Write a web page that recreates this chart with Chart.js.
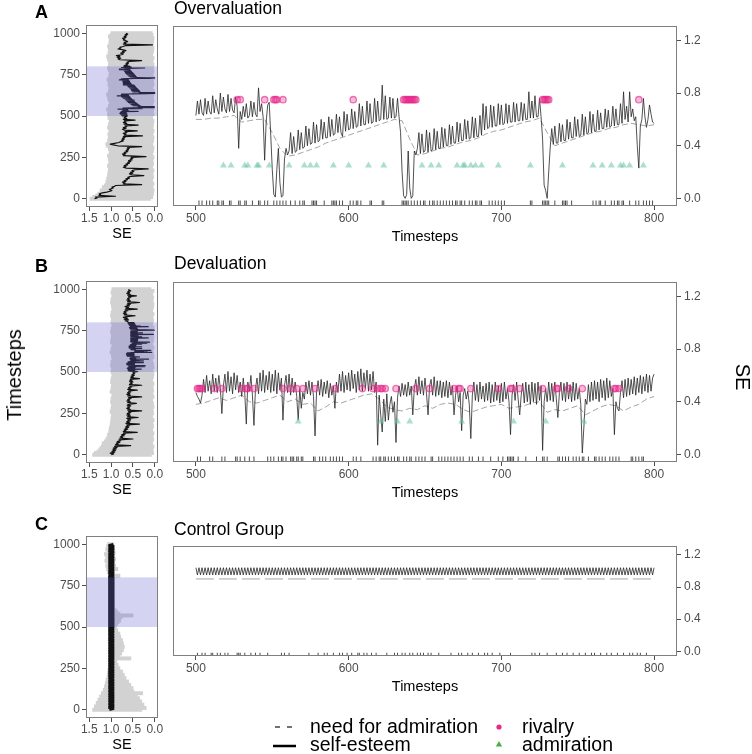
<!DOCTYPE html>
<html lang="en">
<head>
  <meta charset="UTF-8" />
  <title>Self-esteem simulation panels</title>
  <script src="https://cdn.jsdelivr.net/npm/chart.js"></script>
  <style>
    body { margin: 0; background: #fff; font-family: 'Liberation Sans', Arial, sans-serif; }
    #page { position: relative; width: 752px; height: 754px; overflow: hidden; background: #fff; }
    #page canvas { position: absolute; }
    .t { position: absolute; white-space: nowrap; line-height: 1; color: #000; }
    .tag { font-size: 18px; font-weight: bold; left: 35px; }
    .title { font-size: 17.5px; left: 174px; }
    .xlab { font-size: 14.5px; width: 200px; text-align: center; }
    .leg { font-size: 19.5px; }
  </style>
</head>
<body>
<div id="page">
  <canvas id="leftA"></canvas>
  <canvas id="rightA"></canvas>
  <canvas id="leftB"></canvas>
  <canvas id="rightB"></canvas>
  <canvas id="leftC"></canvas>
  <canvas id="rightC"></canvas>

  <div class="t tag" style="top:3px">A</div>
  <div class="t tag" style="top:257px">B</div>
  <div class="t tag" style="top:515px">C</div>

  <div class="t title" style="top:0px">Overvaluation</div>
  <div class="t title" style="top:255px">Devaluation</div>
  <div class="t title" style="top:521px">Control Group</div>

  <div class="t xlab" style="left:325px; top:229px">Timesteps</div>
  <div class="t xlab" style="left:325px; top:485px">Timesteps</div>
  <div class="t xlab" style="left:325px; top:679px">Timesteps</div>

  <div class="t xlab" style="left:22px; top:226px">SE</div>
  <div class="t xlab" style="left:22px; top:482px">SE</div>
  <div class="t xlab" style="left:22px; top:737px">SE</div>

  <div class="t" style="left:14px; top:375px; font-size:20px; transform:translate(-50%,-50%) rotate(-90deg)">Timesteps</div>
  <div class="t" style="left:743px; top:377px; font-size:20px; transform:translate(-50%,-50%) rotate(90deg)">SE</div>

  <svg width="752" height="754" style="position:absolute; left:0; top:0">
    <line x1="275" y1="727" x2="292" y2="727" stroke="#444" stroke-width="1.4" stroke-dasharray="5,7" />
    <line x1="273" y1="746" x2="296" y2="746" stroke="#000" stroke-width="2.5" />
    <circle cx="499" cy="727" r="2.6" fill="#e7298a" />
    <polygon points="499,741 502.2,746.5 495.8,746.5" fill="#4daf4a" />
  </svg>
  <div class="t leg" style="left:310px; top:717px">need for admiration</div>
  <div class="t leg" style="left:310px; top:735px">self-esteem</div>
  <div class="t leg" style="left:522px; top:717px">rivalry</div>
  <div class="t leg" style="left:522px; top:735px">admiration</div>
</div>

<script>
  // ---------------- data ----------------
  const windowTicks = [500, 600, 700, 800];
  const seTicks = [0, 0.4, 0.8, 1.2];
  const fullTicks = [0, 250, 500, 750, 1000];
  const seTicksRev = [1.5, 1.0, 0.5, 0.0];

  // self-esteem of the focal run, one value per timestep 500..800
  const seOver = [
    0.63,0.74,0.64,0.75,0.65,0.63,0.76,0.64,0.74,0.66,
    0.64,0.78,0.65,0.75,0.68,0.64,0.80,0.66,0.77,0.68,
    0.65,0.79,0.66,0.76,0.67,0.65,0.77,0.70,0.38,0.66,
    0.60,0.70,0.62,0.72,0.61,0.63,0.74,0.62,0.73,0.64,
    0.62,0.84,0.66,0.72,0.62,0.29,0.58,0.71,0.73,0.48,
    0.22,0.03,0.01,0.22,0.38,0.12,0.01,0.02,0.30,0.38,
    0.33,0.36,0.50,0.34,0.47,0.35,0.36,0.52,0.37,0.50,
    0.38,0.39,0.55,0.40,0.53,0.41,0.42,0.58,0.42,0.56,
    0.43,0.44,0.60,0.45,0.58,0.46,0.46,0.62,0.47,0.60,
    0.48,0.49,0.64,0.50,0.62,0.50,0.47,0.66,0.51,0.64,
    0.52,0.53,0.68,0.53,0.66,0.54,0.55,0.72,0.55,0.70,
    0.56,0.56,0.74,0.57,0.72,0.57,0.58,0.76,0.58,0.74,
    0.59,0.60,0.86,0.60,0.78,0.60,0.61,0.77,0.61,0.76,
    0.61,0.62,0.76,0.62,0.50,0.20,0.02,0.00,0.03,0.36,
    0.08,0.00,0.02,0.36,0.33,0.38,0.50,0.34,0.49,0.35,
    0.36,0.52,0.35,0.50,0.36,0.37,0.53,0.37,0.51,0.38,
    0.38,0.54,0.39,0.53,0.40,0.40,0.56,0.41,0.55,0.42,
    0.42,0.58,0.43,0.57,0.44,0.44,0.60,0.45,0.59,0.45,
    0.46,0.62,0.46,0.61,0.47,0.47,0.63,0.48,0.72,0.52,
    0.70,0.53,0.54,0.71,0.54,0.70,0.55,0.55,0.72,0.56,
    0.71,0.56,0.57,0.72,0.57,0.71,0.58,0.58,0.73,0.58,
    0.72,0.59,0.59,0.73,0.59,0.72,0.60,0.60,0.81,0.61,
    0.74,0.61,0.78,0.62,0.62,0.76,0.62,0.45,0.10,0.06,
    0.00,0.20,0.39,0.53,0.41,0.55,0.42,0.42,0.57,0.43,
    0.56,0.44,0.44,0.60,0.45,0.58,0.46,0.46,0.62,0.47,
    0.60,0.47,0.48,0.64,0.48,0.62,0.49,0.50,0.66,0.50,
    0.64,0.51,0.51,0.67,0.52,0.65,0.53,0.53,0.68,0.54,
    0.67,0.54,0.55,0.70,0.55,0.68,0.56,0.56,0.72,0.57,
    0.81,0.60,0.70,0.58,0.81,0.62,0.68,0.59,0.62,0.40,
    0.23,0.55,0.60,0.76,0.62,0.54,0.60,0.71,0.64,0.58,
    0.57
  ];
  const seDev = [
    0.47,0.44,0.42,0.39,0.45,0.57,0.47,0.60,0.48,0.56,
    0.46,0.61,0.48,0.58,0.47,0.60,0.50,0.31,0.52,0.61,
    0.47,0.63,0.48,0.59,0.46,0.62,0.49,0.60,0.47,0.55,
    0.44,0.58,0.46,0.23,0.55,0.48,0.60,0.45,0.22,0.50,
    0.58,0.46,0.62,0.48,0.64,0.47,0.60,0.49,0.63,0.47,
    0.61,0.48,0.64,0.46,0.62,0.49,0.58,0.26,0.52,0.60,
    0.47,0.61,0.45,0.58,0.47,0.55,0.44,0.26,0.50,0.35,
    0.47,0.42,0.55,0.46,0.56,0.45,0.55,0.44,0.14,0.48,
    0.56,0.45,0.57,0.44,0.55,0.46,0.56,0.43,0.54,0.45,
    0.52,0.35,0.55,0.47,0.61,0.48,0.63,0.47,0.60,0.49,
    0.62,0.48,0.64,0.50,0.61,0.47,0.63,0.49,0.65,0.48,
    0.62,0.50,0.64,0.48,0.61,0.49,0.63,0.47,0.55,0.07,
    0.45,0.30,0.17,0.42,0.25,0.46,0.26,0.38,0.44,0.32,
    0.40,0.09,0.43,0.52,0.44,0.54,0.45,0.53,0.44,0.55,
    0.45,0.52,0.30,0.50,0.57,0.45,0.59,0.46,0.56,0.45,
    0.58,0.46,0.30,0.52,0.57,0.45,0.59,0.44,0.56,0.45,
    0.56,0.43,0.55,0.44,0.56,0.43,0.55,0.45,0.52,0.30,
    0.45,0.52,0.40,0.47,0.18,0.45,0.50,0.42,0.48,0.38,
    0.12,0.45,0.55,0.41,0.53,0.40,0.55,0.42,0.52,0.40,
    0.54,0.41,0.55,0.39,0.53,0.40,0.55,0.41,0.52,0.39,
    0.54,0.40,0.55,0.42,0.50,0.40,0.15,0.45,0.53,0.41,
    0.55,0.42,0.30,0.45,0.54,0.39,0.55,0.40,0.53,0.38,
    0.55,0.40,0.54,0.38,0.55,0.41,0.52,0.03,0.40,0.50,
    0.40,0.55,0.41,0.54,0.40,0.55,0.42,0.28,0.47,0.55,
    0.41,0.54,0.40,0.55,0.42,0.53,0.40,0.55,0.41,0.54,
    0.42,0.50,0.38,0.01,0.20,0.42,0.38,0.53,0.40,0.55,
    0.41,0.56,0.42,0.55,0.40,0.57,0.43,0.56,0.41,0.58,
    0.43,0.56,0.44,0.50,0.15,0.40,0.35,0.33,0.47,0.56,
    0.43,0.57,0.44,0.58,0.45,0.57,0.46,0.59,0.45,0.58,
    0.47,0.60,0.46,0.59,0.48,0.61,0.47,0.60,0.48,0.58,
    0.61
  ];
  const seCtrl = [
    1.04,0.95,1.04,0.95,1.04,0.95,1.04,0.95,1.04,0.95,
    1.04,0.95,1.04,0.95,1.04,0.95,1.04,0.95,1.04,0.95,
    1.04,0.95,1.04,0.95,1.04,0.95,1.04,0.95,1.04,0.95,
    1.04,0.95,1.04,0.95,1.04,0.95,1.04,0.95,1.04,0.95,
    1.04,0.95,1.04,0.95,1.04,0.95,1.04,0.95,1.04,0.95,
    1.04,0.95,1.04,0.95,1.04,0.95,1.04,0.95,1.04,0.95,
    1.04,0.95,1.04,0.95,1.04,0.95,1.04,0.95,1.04,0.95,
    1.04,0.95,1.04,0.95,1.04,0.95,1.04,0.95,1.04,0.95,
    1.04,0.95,1.04,0.95,1.04,0.95,1.04,0.95,1.04,0.95,
    1.04,0.95,1.04,0.95,1.04,0.95,1.04,0.95,1.04,0.95,
    1.04,0.95,1.04,0.95,1.04,0.95,1.04,0.95,1.04,0.95,
    1.04,0.95,1.04,0.95,1.04,0.95,1.04,0.95,1.04,0.95,
    1.04,0.95,1.04,0.95,1.04,0.95,1.04,0.95,1.04,0.95,
    1.04,0.95,1.04,0.95,1.04,0.95,1.04,0.95,1.04,0.95,
    1.04,0.95,1.04,0.95,1.04,0.95,1.04,0.95,1.04,0.95,
    1.04,0.95,1.04,0.95,1.04,0.95,1.04,0.95,1.04,0.95,
    1.04,0.95,1.04,0.95,1.04,0.95,1.04,0.95,1.04,0.95,
    1.04,0.95,1.04,0.95,1.04,0.95,1.04,0.95,1.04,0.95,
    1.04,0.95,1.04,0.95,1.04,0.95,1.04,0.95,1.04,0.95,
    1.04,0.95,1.04,0.95,1.04,0.95,1.04,0.95,1.04,0.95,
    1.04,0.95,1.04,0.95,1.04,0.95,1.04,0.95,1.04,0.95,
    1.04,0.95,1.04,0.95,1.04,0.95,1.04,0.95,1.04,0.95,
    1.04,0.95,1.04,0.95,1.04,0.95,1.04,0.95,1.04,0.95,
    1.04,0.95,1.04,0.95,1.04,0.95,1.04,0.95,1.04,0.95,
    1.04,0.95,1.04,0.95,1.04,0.95,1.04,0.95,1.04,0.95,
    1.04,0.95,1.04,0.95,1.04,0.95,1.04,0.95,1.04,0.95,
    1.04,0.95,1.04,0.95,1.04,0.95,1.04,0.95,1.04,0.95,
    1.04,0.95,1.04,0.95,1.04,0.95,1.04,0.95,1.04,0.95,
    1.04,0.95,1.04,0.95,1.04,0.95,1.04,0.95,1.04,0.95,
    1.04,0.95,1.04,0.95,1.04,0.95,1.04,0.95,1.04,0.95,
    1.04
  ];

  // need for admiration, every 5th timestep 500..800 (control: endpoints only)
  const nfaOver = [
    0.60,0.60,0.61,0.61,0.62,0.63,0.58,0.59,0.60,0.60,
    0.50,0.38,0.32,0.33,0.35,0.37,0.39,0.42,0.44,0.46,
    0.48,0.50,0.52,0.54,0.56,0.58,0.60,0.59,0.45,0.33,
    0.34,0.36,0.38,0.39,0.41,0.43,0.44,0.46,0.49,0.51,
    0.52,0.54,0.56,0.58,0.59,0.61,0.50,0.40,0.42,0.44,
    0.46,0.48,0.50,0.51,0.53,0.54,0.56,0.57,0.56,0.55,
    0.56
  ];
  const nfaDev = [
    0.38,0.39,0.41,0.43,0.41,0.43,0.45,0.40,0.39,0.41,
    0.43,0.45,0.40,0.42,0.38,0.39,0.33,0.36,0.40,0.39,
    0.41,0.43,0.45,0.46,0.42,0.36,0.34,0.33,0.35,0.34,
    0.37,0.35,0.38,0.39,0.38,0.34,0.32,0.34,0.36,0.37,
    0.38,0.35,0.36,0.37,0.39,0.40,0.32,0.34,0.33,0.35,
    0.37,0.30,0.33,0.36,0.38,0.37,0.33,0.36,0.38,0.42,
    0.44
  ];
  const nfaCtrl = [0.90, 0.90];

  // events
  const rivalryOver = [527,529,545,551,552,553,557,603,636,637,638,639,640,641,642,643,644,727,728,729,730,731,790];
  const admirationOver = [518,523,532,534,540,541,548,561,571,575,579,590,600,613,623,648,654,659,671,675,676,680,683,687,698,719,740,760,766,772,778,780,784,793];
  const rivalryDev = [501,502,503,504,512,517,530,533,534,538,557,562,566,570,578,591,609,616,619,621,622,624,631,644,653,669,672,673,680,698,706,707,712,727,736,737,744,753,774,775,777];
  const admirationDev = [567,621,632,640,674,708,729,754];
  const rivalryLevel = { over: 0.75, dev: 0.50 };
  const admirationLevel = 0.25;

  // interaction timesteps (rug)
  const rugOver = [502,504,507,509,511,514,515,517,518,522,523,528,529,532,533,537,541,542,545,547,551,553,555,557,559,562,565,568,570,571,576,577,578,579,584,589,590,591,592,594,596,601,603,605,606,608,614,615,622,623,635,636,637,638,639,641,643,645,647,649,650,653,655,656,658,660,662,664,666,668,670,671,673,674,676,679,681,683,684,686,687,692,694,696,698,700,702,719,720,727,728,729,730,731,735,740,741,742,743,746,760,762,764,765,768,772,774,776,777,779,780,784,788,790,793,795,797,799];
  const rugDev = [501,503,509,511,517,519,526,527,529,532,535,538,547,549,551,554,556,557,559,562,563,564,566,567,569,570,577,578,581,583,585,588,590,592,594,596,603,605,608,616,618,620,621,623,624,626,628,630,632,633,636,638,640,641,644,646,648,650,654,655,659,661,663,665,667,669,671,673,675,679,681,685,688,693,698,701,704,705,706,707,708,711,716,723,727,728,730,737,738,740,742,744,747,749,751,753,754,757,761,762,764,766,768,771,773,775,777,785,786,788,790,792,793];
  const rugCtrl = [501,504,506,510,511,514,516,519,521,527,528,529,532,536,539,542,547,556,558,561,574,580,584,586,590,594,596,599,602,606,607,610,612,615,618,625,630,632,635,637,640,642,645,647,649,652,654,659,667,672,674,678,681,685,689,691,694,699,706,720,722,725,730,736,740,743,747,751,755,759,761,765,769,772,776,780,784,786,789,791,795];

  // whole run (0..1000): self-esteem every 5th step outside the window
  const trackOverPre = [
    1.38,1.32,1.36,0.90,1.28,1.24,1.27,1.20,1.10,1.02,
    0.98,1.04,1.00,0.95,0.98,0.92,0.90,0.30,0.72,0.68,
    0.74,0.66,0.70,0.62,0.66,0.58,0.62,0.55,0.25,0.52,
    0.58,0.50,0.56,0.48,0.52,0.45,0.15,0.65,0.72,0.66,
    0.70,0.62,0.66,0.58,0.62,0.55,0.60,0.52,0.56,0.50,
    0.54,0.20,0.72,0.68,0.74,0.66,0.70,0.62,0.66,0.60,
    0.64,0.58,0.62,0.30,0.85,0.95,1.02,0.92,0.82,0.78,
    0.72,0.76,0.70,0.74,0.68,0.72,0.28,0.70,0.66,0.72,
    0.64,0.68,0.40,0.70,0.74,0.66,0.72,0.64,0.68,0.38,
    0.70,0.64,0.72,0.66,0.70,0.45,0.72,0.64,0.70,0.66
  ];
  const trackOverPost = [
    0.70,0.62,0.66,0.60,0.64,0.58,0.30,0.80,0.84,0.78,
    0.86,0.80,0.88,0.76,0.72,0.78,0.70,0.74,0.66,0.72,
    0.84,0.78,0.80,0.72,0.68,0.05,0.72,0.66,0.70,0.62,
    0.66,0.72,0.68,0.74,0.66,0.70,0.64,0.68,0.62,0.66
  ];
  const trackDevPre = [
    1.00,0.94,1.02,0.92,0.98,0.90,0.96,0.88,0.95,0.86,
    0.92,0.55,0.90,0.84,0.88,0.80,0.86,0.78,0.82,0.50,
    0.80,0.74,0.78,0.70,0.76,0.68,0.72,0.40,0.72,0.66,
    0.70,0.62,0.68,0.60,0.66,0.58,0.64,0.35,0.66,0.58,
    0.64,0.56,0.62,0.55,0.64,0.38,0.62,0.56,0.64,0.57,
    0.63,0.55,0.60,0.30,0.62,0.56,0.64,0.58,0.62,0.55,
    0.63,0.57,0.42,0.62,0.56,0.64,0.58,0.62,0.54,0.60,
    0.30,0.62,0.56,0.64,0.57,0.62,0.55,0.60,0.40,0.62,
    0.56,0.60,0.53,0.58,0.30,0.58,0.52,0.56,0.50,0.58,
    0.52,0.56,0.35,0.55,0.49,0.54,0.47,0.52,0.46,0.50
  ];
  const trackDevPost = [
    0.62,0.68,0.60,0.70,0.62,0.72,0.64,0.45,0.70,0.64,
    0.72,0.66,0.70,0.62,0.68,0.40,0.66,0.60,0.68,0.58,
    0.64,0.56,0.62,0.35,0.62,0.56,0.64,0.58,0.62,0.55,
    0.60,0.42,0.62,0.56,0.64,0.58,0.62,0.55,0.60,0.58
  ];
  const trackCtrlPre = [
    1.04,0.95,1.04,0.95,1.04,0.95,1.04,0.95,1.04,0.95,
    1.04,0.95,1.04,0.95,1.04,0.95,1.04,0.95,1.04,0.95,
    1.04,0.95,1.04,0.95,1.04,0.95,1.04,0.95,1.04,0.95,
    1.04,0.95,1.04,0.95,1.04,0.95,1.04,0.95,1.04,0.95,
    1.04,0.95,1.04,0.95,1.04,0.95,1.04,0.95,1.04,0.95,
    1.04,0.95,1.04,0.95,1.04,0.95,1.04,0.95,1.04,0.95,
    1.04,0.95,1.04,0.95,1.04,0.95,1.04,0.95,1.04,0.95,
    1.04,0.95,1.04,0.95,1.04,0.95,1.04,0.95,1.04,0.95,
    1.04,0.95,1.04,0.95,1.04,0.95,1.04,0.95,1.04,0.95,
    1.04,0.95,1.04,0.95,1.04,0.95,1.04,0.95,1.04,0.95
  ];
  const trackCtrlPost = [
    1.04,0.95,1.04,0.95,1.04,0.95,1.04,0.95,1.04,0.95,
    1.04,0.95,1.04,0.95,1.04,0.95,1.04,0.95,1.04,0.95,
    1.04,0.95,1.04,0.95,1.04,0.95,1.04,0.95,1.04,0.95,
    1.04,0.95,1.04,0.95,1.04,0.95,1.04,0.95,1.04,0.95
  ];

  // spread across runs, every 10th step 0..1000 (upper / lower SE)
  const spreadOverHi = [
    1.48,1.42,1.35,1.30,1.22,1.25,1.18,1.20,1.15,1.10,
    1.12,1.05,1.10,1.04,1.08,1.02,1.07,1.00,1.06,1.02,
    1.08,1.00,1.05,0.98,1.06,1.02,1.08,1.00,1.04,0.98,
    1.06,1.02,1.10,1.12,1.05,1.08,1.00,1.06,1.02,1.07,
    0.99,1.05,1.00,1.08,1.02,1.06,0.98,1.04,1.00,1.07,
    1.02,1.08,1.00,1.05,1.10,1.02,1.06,0.98,1.04,1.00,
    1.07,1.02,1.08,1.10,1.03,1.06,0.99,1.05,1.01,1.07,
    1.00,1.06,1.09,1.02,1.05,0.98,1.04,1.00,1.06,1.08,
    1.02,1.06,1.00,1.05,1.08,1.02,1.10,1.04,1.07,1.00,
    1.06,1.02,1.08,1.00,1.05,0.98,1.04,1.00,1.06,1.02,
    1.00
  ];
  const spreadOverLo = [
    0.10,0.05,0.12,0.03,0.08,0.02,0.10,0.04,0.07,0.02,
    0.12,0.05,0.09,0.03,0.15,0.04,0.08,0.02,0.11,0.05,
    0.07,0.03,0.13,0.04,0.09,0.02,0.10,0.05,0.06,0.03,
    0.11,0.02,0.08,0.05,0.14,0.03,0.07,0.02,0.10,0.04,
    0.06,0.02,0.12,0.04,0.08,0.03,0.11,0.02,0.07,0.05,
    0.09,0.02,0.06,0.03,0.10,0.01,0.08,0.04,0.12,0.02,
    0.07,0.03,0.09,0.02,0.06,0.01,0.11,0.04,0.08,0.02,
    0.10,0.03,0.07,0.01,0.09,0.04,0.12,0.02,0.06,0.03,
    0.08,0.02,0.11,0.04,0.07,0.02,0.10,0.05,0.13,0.03,
    0.09,0.02,0.07,0.04,0.12,0.03,0.08,0.02,0.10,0.04,
    0.06
  ];
  const spreadDevHi = [
    1.42,1.38,1.32,1.28,1.25,1.22,1.18,1.20,1.15,1.12,
    1.10,1.06,1.08,1.03,1.05,1.00,1.04,0.98,1.02,0.97,
    1.01,0.96,1.00,0.95,0.99,0.96,1.02,0.97,1.00,0.95,
    0.99,0.96,1.01,0.97,1.00,0.95,0.98,0.96,1.02,0.97,
    1.00,0.95,0.99,0.96,1.01,0.97,1.00,0.95,0.98,0.96,
    1.00,0.96,0.99,0.95,1.01,0.97,1.00,0.96,0.98,0.95,
    0.99,0.96,1.02,0.97,1.00,0.95,0.98,0.96,1.01,0.97,
    1.00,0.95,0.99,0.96,1.01,0.97,1.00,0.95,0.98,0.96,
    1.00,0.96,0.99,0.95,1.01,0.97,1.00,0.96,0.98,0.95,
    0.99,0.96,1.01,0.97,1.00,0.95,0.98,0.96,1.00,0.97,
    0.98
  ];
  const spreadDevLo = [
    0.08,0.03,0.11,0.04,0.07,0.02,0.12,0.05,0.09,0.03,
    0.10,0.04,0.07,0.02,0.13,0.05,0.08,0.03,0.11,0.04,
    0.06,0.02,0.10,0.05,0.08,0.03,0.12,0.04,0.07,0.02,
    0.09,0.03,0.11,0.05,0.06,0.02,0.10,0.04,0.08,0.03,
    0.12,0.04,0.07,0.02,0.09,0.05,0.11,0.03,0.06,0.02,
    0.10,0.04,0.08,0.02,0.12,0.03,0.07,0.05,0.09,0.02,
    0.11,0.03,0.06,0.04,0.10,0.02,0.08,0.05,0.12,0.03,
    0.07,0.02,0.09,0.04,0.11,0.03,0.06,0.02,0.10,0.05,
    0.08,0.03,0.12,0.04,0.07,0.02,0.09,0.05,0.11,0.03,
    0.06,0.02,0.10,0.04,0.08,0.03,0.12,0.05,0.07,0.02,
    0.09
  ];
  const spreadCtrlHi = [
    1.42,1.36,1.38,1.30,1.34,1.26,1.30,1.22,1.26,1.18,
    1.22,1.15,1.18,1.12,1.15,1.10,1.13,1.08,1.11,1.07,
    1.09,1.06,1.08,1.05,1.07,1.05,1.06,1.05,1.06,1.05,
    1.05,1.06,1.05,1.06,1.05,1.05,1.06,1.05,1.05,1.06,
    1.05,1.05,1.06,1.05,1.05,1.06,1.05,1.05,1.05,1.06,
    1.05,1.05,1.06,1.05,1.05,1.05,1.06,1.05,1.05,1.05,
    1.05,1.06,1.05,1.05,1.05,1.06,1.05,1.05,1.05,1.05,
    1.06,1.05,1.05,1.05,1.06,1.05,1.05,1.05,1.06,1.05,
    1.05,1.05,1.06,1.08,1.05,1.10,1.06,1.12,1.08,1.10,
    1.14,1.08,1.12,1.06,1.15,1.10,1.08,1.12,1.06,1.10,
    1.08
  ];
  const spreadCtrlLo = [
    0.30,0.20,0.35,0.25,0.40,0.30,0.45,0.35,0.50,0.40,
    0.28,0.48,0.55,0.50,0.60,0.55,0.65,0.60,0.70,0.66,
    0.74,0.70,0.78,0.74,0.82,0.80,0.88,0.84,0.90,0.87,
    0.92,0.55,0.85,0.80,0.76,0.80,0.72,0.78,0.70,0.76,
    0.72,0.80,0.74,0.82,0.78,0.85,0.80,0.88,0.85,0.90,
    0.88,0.90,0.85,0.82,0.78,0.80,0.75,0.50,0.80,0.85,
    0.88,0.92,0.93,0.94,0.93,0.94,0.93,0.94,0.95,0.93,
    0.94,0.93,0.94,0.95,0.93,0.94,0.93,0.95,0.94,0.93,
    0.92,0.80,0.93,0.94,0.92,0.85,0.93,0.90,0.94,0.92,
    0.93,0.90,0.94,0.92,0.93,0.91,0.94,0.92,0.93,0.94,
    0.94
  ];

  // ---------------- layout / styling ----------------
  const windowStart = 500, windowEnd = 800;
  const coarseStep = 5, spreadStep = 10, nfaStep = 5;
  const Y_MIN = -0.058, Y_MAX = 1.31, RUG = 0.041;
  const PAD = 16;

  Chart.defaults.font.family = "'Liberation Sans', Arial, sans-serif";
  Chart.defaults.font.size = 12;
  Chart.defaults.color = '#4d4d4d';
  Chart.defaults.animation = false;
  Chart.defaults.plugins.legend.display = false;
  Chart.defaults.plugins.tooltip.enabled = false;

  const tickGrid = { drawOnChartArea: false, drawTicks: true, tickLength: 4, color: '#4d4d4d', offset: false };

  // panel border, plus the shaded 500-800 window on the overview panels
  const frame = {
    id: 'frame',
    afterDatasetsDraw(chart, args, opts) {
      const { ctx, chartArea: a } = chart;
      ctx.save();
      if (opts.band) {
        const y = chart.scales.y;
        const top = y.getPixelForValue(opts.band[1]);
        const bot = y.getPixelForValue(opts.band[0]);
        ctx.fillStyle = 'rgba(100,100,210,0.28)';
        ctx.fillRect(a.left, top, a.right - a.left, bot - top);
      }
      ctx.strokeStyle = '#7f7f7f';
      ctx.lineWidth = 1;
      ctx.strokeRect(Math.round(a.left) + 0.5, Math.round(a.top) + 0.5,
        Math.round(a.right - a.left) - 1, Math.round(a.bottom - a.top) - 1);
      ctx.restore();
    }
  };

  function place(id, area, axisLeft, axisRight, axisBottom) {
    const c = document.getElementById(id);
    const w = PAD + axisLeft + (area.r - area.l) + axisRight + PAD;
    const h = PAD + (area.b - area.t) + axisBottom + PAD;
    c.width = w;
    c.height = h;
    c.style.width = w + 'px';
    c.style.height = h + 'px';
    c.style.left = (area.l - PAD - axisLeft) + 'px';
    c.style.top = (area.t - PAD) + 'px';
    return c;
  }

  function rightPanel(id, area, se, nfa, nfaEvery, riv, rivY, adm, rug, dash) {
    const canvas = place(id, area, 0, 40, 24);
    const datasets = [
      {
        type: 'scatter', data: adm.map(t => ({ x: t, y: admirationLevel })),
        pointStyle: 'triangle', pointRadius: 4, borderWidth: 0,
        backgroundColor: 'rgba(102,194,165,0.55)'
      },
      {
        type: 'scatter', data: riv.map(t => ({ x: t, y: rivY })),
        pointStyle: 'circle', pointRadius: 3.2, borderWidth: 1.3,
        backgroundColor: 'rgba(231,41,138,0.32)', borderColor: 'rgba(231,41,138,0.62)'
      },
      {
        type: 'line', data: se.map((v, i) => ({ x: windowStart + i, y: v })),
        borderColor: '#262626', borderWidth: 0.8, borderJoinStyle: 'round',
        pointRadius: 0, tension: 0
      },
      {
        type: 'line', data: nfa.map((v, i) => ({ x: windowStart + i * nfaEvery, y: v })),
        borderColor: '#9a9a9a', borderWidth: 0.9, borderDash: dash, pointRadius: 0, tension: 0
      },
      {
        type: 'bar', data: rug.map(t => ({ x: t, y: [Y_MIN, Y_MIN + RUG] })),
        backgroundColor: '#4d4d4d', barThickness: 1, inflateAmount: 0
      }
    ];
    new Chart(canvas, {
      type: 'line',
      data: { datasets },
      options: {
        responsive: false,
        layout: { padding: PAD },
        scales: {
          x: {
            type: 'linear', min: 485, max: 815, offset: false,
            afterBuildTicks: s => { s.ticks = windowTicks.map(v => ({ value: v })); },
            afterFit: s => { s.height = 24; },
            ticks: { padding: 1, autoSkip: false, maxRotation: 0, callback: v => String(v) },
            grid: tickGrid, border: { display: false }
          },
          y: {
            type: 'linear', position: 'right', min: Y_MIN, max: Y_MAX,
            afterBuildTicks: s => { s.ticks = seTicks.map(v => ({ value: v })); },
            afterFit: s => { s.width = 40; },
            ticks: { padding: 3, autoSkip: false, callback: v => Number(v).toFixed(1) },
            grid: tickGrid, border: { display: false }
          }
        },
        plugins: { frame: {} }
      },
      plugins: [frame]
    });
  }

  function leftPanel(id, area, hi, lo, pre, main, post, lineWidth) {
    const canvas = place(id, area, 50, 0, 24);
    const spread = lo.map((v, i) => ({ y: i * spreadStep, x: [v, hi[i]] }));
    const track = [];
    pre.forEach((v, i) => track.push({ x: v, y: i * coarseStep }));
    main.forEach((v, i) => track.push({ x: v, y: windowStart + i }));
    post.forEach((v, i) => track.push({ x: v, y: windowEnd + coarseStep * (i + 1) }));
    new Chart(canvas, {
      type: 'bar',
      data: {
        datasets: [
          {
            type: 'line', indexAxis: 'y', data: track,
            borderColor: '#111', borderWidth: lineWidth, borderJoinStyle: 'round',
            pointRadius: 0, tension: 0
          },
          {
            type: 'bar', data: spread, backgroundColor: '#d2d2d2',
            barThickness: 3, inflateAmount: 0.5
          }
        ]
      },
      options: {
        responsive: false,
        indexAxis: 'y',
        layout: { padding: PAD },
        scales: {
          x: {
            type: 'linear', reverse: true, min: -0.075, max: 1.575, offset: false,
            afterBuildTicks: s => { s.ticks = seTicksRev.map(v => ({ value: v })); },
            afterFit: s => { s.height = 24; },
            ticks: { padding: 0, autoSkip: false, maxRotation: 0, callback: v => Number(v).toFixed(1) },
            grid: tickGrid, border: { display: false }
          },
          y: {
            type: 'linear', position: 'left', min: -50, max: 1050, offset: false,
            afterBuildTicks: s => { s.ticks = fullTicks.map(v => ({ value: v })); },
            afterFit: s => { s.width = 50; },
            ticks: { padding: 2, autoSkip: false, callback: v => String(v) },
            grid: tickGrid, border: { display: false }
          }
        },
        plugins: { frame: { band: [windowStart, windowEnd] } }
      },
      plugins: [frame]
    });
  }

  leftPanel('leftA', { l: 86, r: 158, t: 25, b: 207 }, spreadOverHi, spreadOverLo, trackOverPre, seOver, trackOverPost, 1.2);
  leftPanel('leftB', { l: 86, r: 158, t: 281, b: 463 }, spreadDevHi, spreadDevLo, trackDevPre, seDev, trackDevPost, 1.2);
  leftPanel('leftC', { l: 86, r: 158, t: 536, b: 718 }, spreadCtrlHi, spreadCtrlLo, trackCtrlPre, seCtrl, trackCtrlPost, 2.5);

  rightPanel('rightA', { l: 173, r: 677, t: 26, b: 206 }, seOver, nfaOver, nfaStep,
    rivalryOver, rivalryLevel.over, admirationOver, rugOver, [6, 3]);
  rightPanel('rightB', { l: 173, r: 677, t: 282, b: 462 }, seDev, nfaDev, nfaStep,
    rivalryDev, rivalryLevel.dev, admirationDev, rugDev, [6, 3]);
  rightPanel('rightC', { l: 173, r: 677, t: 546, b: 656 }, seCtrl, nfaCtrl, windowEnd - windowStart,
    [], 0, [], rugCtrl, [18, 5]);
</script>
</body>
</html>
